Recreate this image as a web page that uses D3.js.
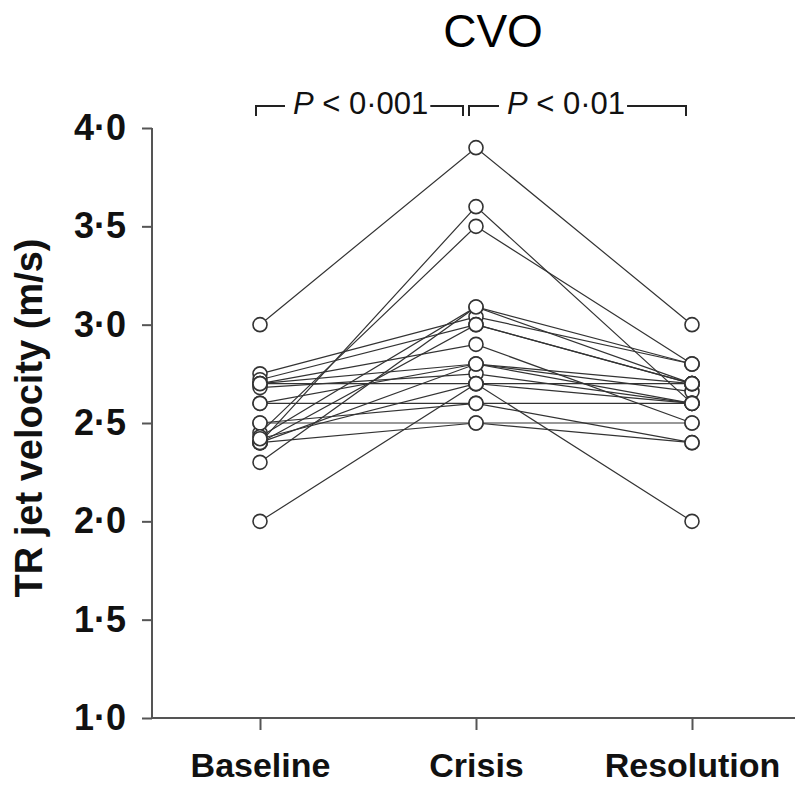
<!DOCTYPE html>
<html>
<head>
<meta charset="utf-8">
<script src="https://cdn.jsdelivr.net/npm/d3@7"></script>
<style>
  body { margin: 0; background: #fff; }
  text { font-family: "Liberation Sans", Arial, sans-serif; }
</style>
</head>
<body>
<svg width="798" height="786"></svg>
<script>
// one entry per patient, same order in every array
var categories = ["Baseline", "Crisis", "Resolution"];
var baseline   = [3.0, 2.4, 2.45, 2.0, 2.3, 2.75, 2.72, 2.7, 2.7, 2.68, 2.7, 2.6, 2.6, 2.5, 2.5, 2.43, 2.4, 2.4, 2.4, 2.42];
var crisis     = [3.9, 3.6, 3.5, 2.7, 3.09, 3.04, 3.0, 2.9, 2.8, 2.75, 2.7, 2.6, 2.8, 2.5, 2.6, 3.09, 2.8, 2.5, 3.0, 2.7];
var resolution = [3.0, 2.6, 2.8, 2.0, 2.7, 2.8, 2.7, 2.5, 2.66, 2.6, 2.7, 2.4, 2.7, 2.4, 2.6, 2.8, 2.6, 2.5, 2.7, 2.6];
var yTicks = [1.0, 1.5, 2.0, 2.5, 3.0, 3.5, 4.0];
var yTickLabels = ["1·0", "1·5", "2·0", "2·5", "3·0", "3·5", "4·0"];
var pLabels = ["0·001", "0·01"];

const svg = d3.select("svg");

const y = d3.scaleLinear().domain([1, 4]).range([718, 128]);
const x = d3.scalePoint().domain(categories).range([260, 692]);

const patients = baseline.map((b, i) => [b, crisis[i], resolution[i]]);

// title
svg.append("text")
    .attr("x", 493).attr("y", 47)
    .attr("text-anchor", "middle")
    .attr("font-size", 46)
    .text("CVO");

// y axis
const yAxis = svg.append("g")
    .attr("transform", "translate(152,0)")
    .call(d3.axisLeft(y).tickValues(yTicks).tickSize(10)
        .tickFormat((d, i) => yTickLabels[i]));
yAxis.select(".domain").attr("stroke", "#555").attr("stroke-width", 2)
    .attr("d", "M0," + y(4) + "V" + y(1));
yAxis.selectAll(".tick line").attr("stroke", "#555").attr("stroke-width", 2);
yAxis.selectAll(".tick text")
    .attr("x", -26)
    .attr("font-size", 36)
    .attr("font-weight", "bold")
    .attr("font-family", "Liberation Sans, Arial, sans-serif")
    .attr("fill", "#111");

// x axis
const xAxis = svg.append("g")
    .attr("transform", "translate(0,718)")
    .call(d3.axisBottom(x).tickSize(12).tickPadding(23));
xAxis.select(".domain").attr("stroke", "#555").attr("stroke-width", 2)
    .attr("d", "M152,0H795");
xAxis.selectAll(".tick line").attr("stroke", "#555").attr("stroke-width", 2);
xAxis.selectAll(".tick text")
    .attr("font-size", 34)
    .attr("font-weight", "bold")
    .attr("font-family", "Liberation Sans, Arial, sans-serif")
    .attr("fill", "#111");

// y label
svg.append("text")
    .attr("transform", "translate(42,418) rotate(-90)")
    .attr("text-anchor", "middle")
    .attr("font-size", 38)
    .attr("font-weight", "bold")
    .attr("fill", "#111")
    .text("TR jet velocity (m/s)");

// patient lines
const line = d3.line().x((d, i) => x(categories[i])).y(d => y(d));
svg.append("g")
    .selectAll("path")
    .data(patients)
    .enter().append("path")
    .attr("d", line)
    .attr("fill", "none")
    .attr("stroke", "#333")
    .attr("stroke-width", 1.2);

// points
const pts = [];
patients.forEach(p => p.forEach((v, i) => pts.push({cat: categories[i], v: v})));
svg.append("g")
    .selectAll("circle")
    .data(pts)
    .enter().append("circle")
    .attr("cx", d => x(d.cat))
    .attr("cy", d => y(d.v))
    .attr("r", 7)
    .attr("fill", "#fff")
    .attr("stroke", "#333")
    .attr("stroke-width", 1.6);

// significance brackets
const brackets = [
    {x1: 256, x2: 463, tx: 293, label: pLabels[0]},
    {x1: 469, x2: 686, tx: 507, label: pLabels[1]}
];
const bTop = 106, bBot = 116;
const bg = svg.append("g");
brackets.forEach(b => {
    const t = bg.append("text")
        .attr("x", b.tx).attr("y", 114)
        .attr("font-size", 31)
        .attr("fill", "#111");
    t.append("tspan").attr("font-style", "italic").text("P");
    t.append("tspan").text(" < " + b.label);
    const w = t.node().getComputedTextLength();
    bg.append("path")
        .attr("d", "M" + b.x1 + "," + bBot + "V" + bTop + "H" + (b.tx - 8))
        .attr("fill", "none").attr("stroke", "#222").attr("stroke-width", 2);
    bg.append("path")
        .attr("d", "M" + (b.tx + w + 2) + "," + bTop + "H" + b.x2 + "V" + bBot)
        .attr("fill", "none").attr("stroke", "#222").attr("stroke-width", 2);
});
</script>
</body>
</html>
